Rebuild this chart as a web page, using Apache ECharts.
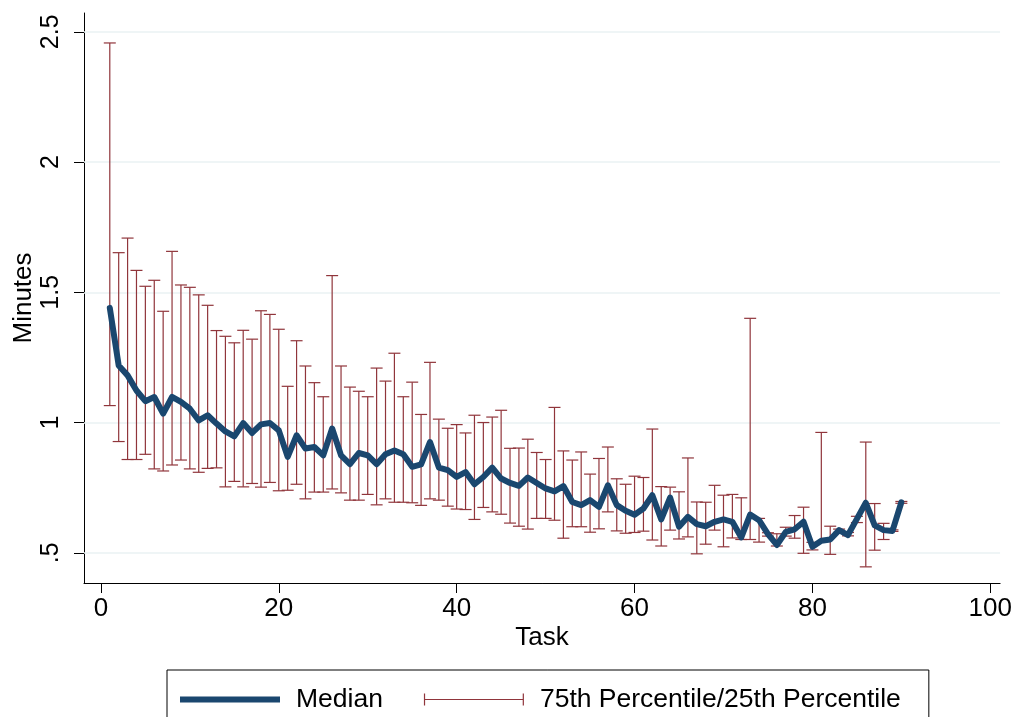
<!DOCTYPE html>
<html>
<head>
<meta charset="utf-8">
<script src="https://cdn.jsdelivr.net/npm/echarts@6/dist/echarts.min.js"></script>
<style>
html,body{margin:0;padding:0;background:#fff;}
#chart{width:1015px;height:717px;}
</style>
</head>
<body>
<div id="chart"></div>
<script>
const tasks = [1,2,3,4,5,6,7,8,9,10,11,12,13,14,15,16,17,18,19,20,21,22,23,24,25,26,27,28,29,30,31,32,33,34,35,36,37,38,39,40,41,42,43,44,45,46,47,48,49,50,51,52,53,54,55,56,57,58,59,60,61,62,63,64,65,66,67,68,69,70,71,72,73,74,75,76,77,78,79,80,81,82,83,84,85,86,87,88,89,90];

const median = [1.440,1.219,1.181,1.123,1.082,1.098,1.034,1.098,1.079,1.053,
1.008,1.028,0.996,0.966,0.947,0.998,0.960,0.993,0.998,0.970,
0.868,0.951,0.900,0.906,0.874,0.977,0.874,0.840,0.883,0.874,
0.840,0.878,0.893,0.878,0.830,0.839,0.925,0.827,0.817,0.791,
0.810,0.763,0.791,0.827,0.785,0.768,0.757,0.789,0.768,0.747,
0.736,0.756,0.695,0.683,0.702,0.676,0.759,0.683,0.661,0.646,
0.670,0.721,0.628,0.712,0.600,0.638,0.610,0.602,0.619,0.628,
0.619,0.559,0.647,0.625,0.572,0.530,0.580,0.590,0.619,0.523,
0.546,0.551,0.587,0.568,0.630,0.692,0.605,0.587,0.584,0.694];

const p75 = [2.457,1.652,1.708,1.584,1.523,1.546,1.427,1.657,1.528,1.519,
1.490,1.450,1.353,1.331,1.306,1.354,1.320,1.429,1.415,1.358,
1.139,1.314,1.217,1.153,1.099,1.564,1.217,1.136,1.120,1.099,
1.209,1.159,1.266,1.099,1.155,1.031,1.231,1.013,0.978,0.992,
0.960,1.028,1.000,1.021,1.047,0.901,0.902,0.936,0.885,0.858,
1.058,0.891,0.856,0.887,0.802,0.862,0.906,0.784,0.763,0.794,
0.789,0.975,0.754,0.752,0.734,0.864,0.695,0.694,0.759,0.721,
0.724,0.711,1.400,0.632,0.577,0.573,0.598,0.643,0.675,0.540,
0.962,0.602,0.591,0.578,0.640,0.925,0.689,0.613,0.588,0.697];

const p25 = [1.065,0.927,0.858,0.858,0.878,0.822,0.814,0.837,0.856,0.822,
0.809,0.824,0.826,0.753,0.774,0.753,0.766,0.752,0.770,0.738,
0.740,0.763,0.707,0.733,0.733,0.745,0.730,0.702,0.702,0.724,
0.684,0.707,0.694,0.694,0.692,0.682,0.707,0.702,0.679,0.668,
0.666,0.628,0.674,0.657,0.648,0.614,0.602,0.591,0.632,0.632,
0.625,0.556,0.600,0.600,0.579,0.592,0.657,0.584,0.575,0.578,
0.583,0.549,0.526,0.587,0.553,0.561,0.496,0.533,0.587,0.523,
0.557,0.551,0.551,0.541,0.564,0.526,0.564,0.556,0.498,0.511,
0.540,0.494,0.578,0.565,0.616,0.446,0.510,0.551,0.582,0.690];

const xTicks = [0,20,40,60,80,100];
const yTicks = [0.5,1,1.5,2,2.5];
const yTickLabels = ['.5','1','1.5','2','2.5'];
const seriesNames = ['Median','75th Percentile/25th Percentile'];
const xTitle = 'Task';
const yTitle = 'Minutes';

const FONT = '"Liberation Sans", Arial, sans-serif';
const NAVY = '#1a476f';
const MAROON = '#90353b';

const medianData = tasks.map((t,i)=>[t, median[i]]);
const barData = tasks.map((t,i)=>[t, p25[i], p75[i]]);

const medianIcon = 'path://M0,0h0.01v0.01h-0.01z M0,3h100v6h-100z M99.99,11.99h0.01v0.01h-0.01z';
const errIcon = 'path://M0,0h1.2v12h-1.2z M0,5.4h100v1.2h-100z M98.8,0h1.2v12h-1.2z';

const chart = echarts.init(document.getElementById('chart'), null, {renderer:'canvas'});
chart.setOption({
  animation:false,
  backgroundColor:'#ffffff',
  textStyle:{fontFamily:FONT},
  grid:{left:84, right:12, top:13, bottom:134, containLabel:false},
  xAxis:{
    type:'value', min:-1.9, max:101.1,
    name:xTitle, nameLocation:'middle', nameGap:42, nameMoveOverlap:false,
    nameTextStyle:{fontSize:26, color:'#000', fontFamily:FONT},
    axisLine:{show:true, onZero:false, lineStyle:{color:'#000', width:1}},
    axisTick:{show:true, length:10, customValues:xTicks, lineStyle:{color:'#000'}},
    axisLabel:{show:true, customValues:xTicks, margin:13, fontSize:26, color:'#000', fontFamily:FONT},
    splitLine:{show:false}
  },
  yAxis:{
    type:'value', min:0.384, max:2.572,
    name:yTitle, nameLocation:'middle', nameGap:47, nameMoveOverlap:false,
    nameTextStyle:{fontSize:26, color:'#000', fontFamily:FONT},
    axisLine:{show:true, onZero:false, lineStyle:{color:'#000', width:1}},
    axisTick:{show:true, length:10, customValues:yTicks, lineStyle:{color:'#000'}},
    axisLabel:{show:true, customValues:yTicks, rotate:90, margin:20, fontSize:25, color:'#000', fontFamily:FONT,
      formatter:function(v){ const i = yTicks.indexOf(v); return i>=0 ? yTickLabels[i] : ''; }},
    splitLine:{show:false}
  },
  legend:{
    left:167, top:670,
    padding:[16,28,30,13],
    itemWidth:100, itemHeight:12, itemGap:41,
    borderColor:'#000', borderWidth:1,
    textStyle:{fontSize:26.5, color:'#000', fontFamily:FONT, padding:[0,0,0,11]},
    data:[
      {name:seriesNames[0], icon:medianIcon, itemStyle:{color:NAVY}},
      {name:seriesNames[1], icon:errIcon, itemStyle:{color:MAROON}}
    ]
  },
  series:[
    {
      type:'line', name:'gridlines', data:[], silent:true,
      markLine:{
        silent:true, z:1, symbol:['none','none'], label:{show:false},
        lineStyle:{color:'#eaf2f3', width:1.5, type:'solid'},
        data: yTicks.map(v=>({yAxis:v}))
      }
    },
    {
      type:'custom', name:seriesNames[1], z:3,
      itemStyle:{color:MAROON},
      encode:{x:0, y:[1,2]},
      data:barData,
      renderItem:function(params, api){
        const x = api.value(0);
        const lo = api.coord([x, api.value(1)]);
        const hi = api.coord([x, api.value(2)]);
        const h = 6;
        const st = {stroke:MAROON, lineWidth:1.2};
        return {type:'group', children:[
          {type:'line', shape:{x1:lo[0], y1:lo[1], x2:hi[0], y2:hi[1]}, style:st},
          {type:'line', shape:{x1:hi[0]-h, y1:hi[1], x2:hi[0]+h, y2:hi[1]}, style:st},
          {type:'line', shape:{x1:lo[0]-h, y1:lo[1], x2:lo[0]+h, y2:lo[1]}, style:st}
        ]};
      }
    },
    {
      type:'line', name:seriesNames[0], z:4,
      data:medianData,
      showSymbol:false, symbol:'none',
      lineStyle:{color:NAVY, width:6, join:'round', cap:'round'},
      itemStyle:{color:NAVY}
    }
  ]
});
</script>
</body>
</html>
